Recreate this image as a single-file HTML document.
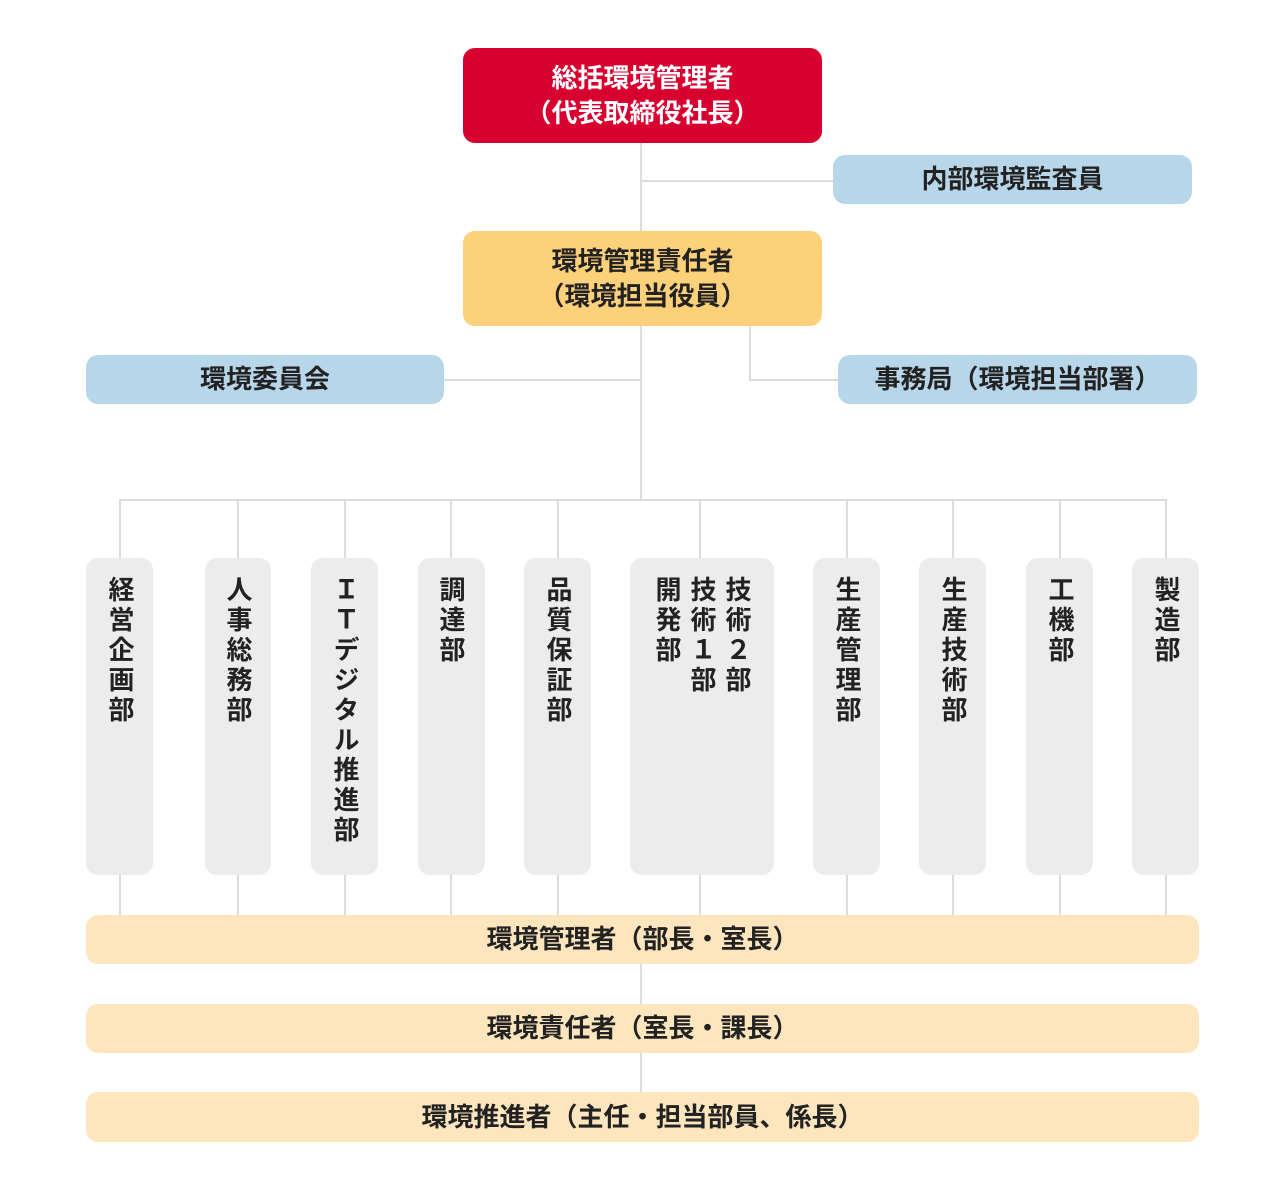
<!DOCTYPE html>
<html><head><meta charset="utf-8"><style>
body{margin:0;width:1285px;height:1200px;background:#fff;position:relative;overflow:hidden;font-family:"Liberation Sans","Noto Sans CJK JP",sans-serif;font-weight:bold;color:#222}
.b{position:absolute;border-radius:12px;display:flex;align-items:center;justify-content:center;text-align:center;font-size:26px;line-height:35px}
.l{position:absolute;background:#dcdcdc}
.d{position:absolute;top:558px;height:317px;background:#ececec;border-radius:12px}
.v{position:absolute;top:576px;writing-mode:vertical-rl;font-size:26px;line-height:35px;letter-spacing:4px}
</style></head><body>
<div class="l" style="left:640px;top:143px;width:2px;height:357px"></div>
<div class="l" style="left:641px;top:180px;width:192px;height:2px"></div>
<div class="l" style="left:444px;top:379px;width:197px;height:2px"></div>
<div class="l" style="left:749px;top:326px;width:2px;height:55px"></div>
<div class="l" style="left:750px;top:379px;width:88px;height:2px"></div>
<div class="l" style="left:119px;top:499px;width:1048px;height:2px"></div>
<div class="l" style="left:640px;top:964px;width:2px;height:128px"></div>

<div class="b" style="left:463px;top:48px;width:359px;height:95px;background:#d7002f;color:#fff">総括環境管理者<br>（代表取締役社長）</div>
<div class="b" style="left:833px;top:155px;width:359px;height:49px;background:#b8d6ea">内部環境監査員</div>
<div class="b" style="left:463px;top:231px;width:359px;height:95px;background:#fdd17a">環境管理責任者<br>（環境担当役員）</div>
<div class="b" style="left:86px;top:355px;width:358px;height:49px;background:#b8d6ea">環境委員会</div>
<div class="b" style="left:838px;top:355px;width:359px;height:49px;background:#b8d6ea">事務局（環境担当部署）</div>

<div class="l" style="left:119px;top:500px;width:2px;height:415px"></div>
<div class="l" style="left:237px;top:500px;width:2px;height:415px"></div>
<div class="l" style="left:344px;top:500px;width:2px;height:415px"></div>
<div class="l" style="left:450px;top:500px;width:2px;height:415px"></div>
<div class="l" style="left:557px;top:500px;width:2px;height:415px"></div>
<div class="l" style="left:699px;top:500px;width:2px;height:415px"></div>
<div class="l" style="left:846px;top:500px;width:2px;height:415px"></div>
<div class="l" style="left:952px;top:500px;width:2px;height:415px"></div>
<div class="l" style="left:1059px;top:500px;width:2px;height:415px"></div>
<div class="l" style="left:1165px;top:500px;width:2px;height:415px"></div>

<div class="d" style="left:86px;width:67px"></div>
<div class="d" style="left:205px;width:66px"></div>
<div class="d" style="left:311px;width:67px"></div>
<div class="d" style="left:418px;width:67px"></div>
<div class="d" style="left:524px;width:67px"></div>
<div class="d" style="left:630px;width:144px"></div>
<div class="d" style="left:813px;width:67px"></div>
<div class="d" style="left:919px;width:67px"></div>
<div class="d" style="left:1026px;width:67px"></div>
<div class="d" style="left:1132px;width:67px"></div>

<div class="v" style="left:102px">経営企画部</div>
<div class="v" style="left:220px">人事総務部</div>
<div class="v" style="left:327px">ＩＴデジタル推進部</div>
<div class="v" style="left:433px">調達部</div>
<div class="v" style="left:540px">品質保証部</div>
<div class="v" style="left:649px">技術２部<br>技術１部<br>開発部</div>
<div class="v" style="left:829px">生産管理部</div>
<div class="v" style="left:935px">生産技術部</div>
<div class="v" style="left:1042px">工機部</div>
<div class="v" style="left:1148px">製造部</div>

<div class="b" style="left:86px;top:915px;width:1113px;height:49px;background:#fde6bd">環境管理者（部長・室長）</div>
<div class="b" style="left:86px;top:1004px;width:1113px;height:49px;background:#fde6bd">環境責任者（室長・課長）</div>
<div class="b" style="left:86px;top:1092px;width:1113px;height:50px;background:#fde6bd">環境推進者（主任・担当部員、係長）</div>
</body></html>
